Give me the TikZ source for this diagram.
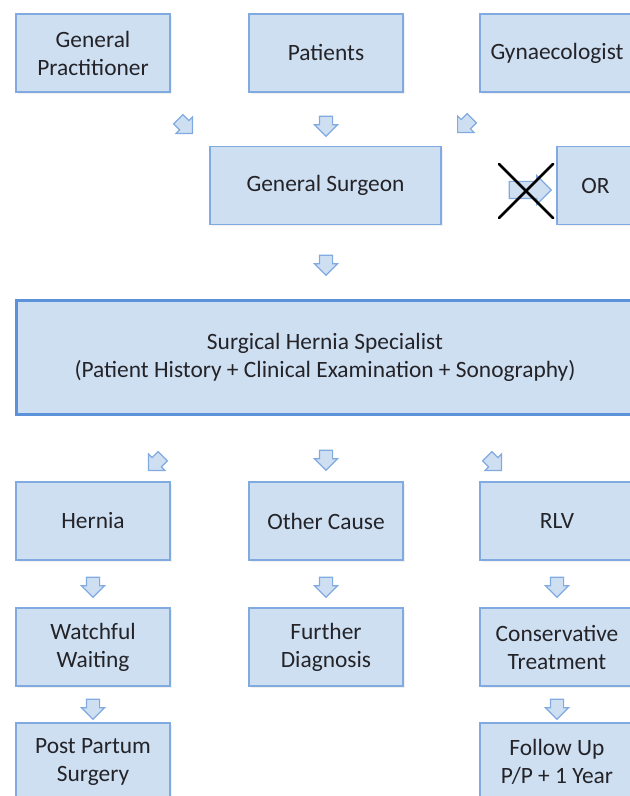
\documentclass[tikz,border=0pt]{standalone}
\usepackage{fontspec}
\setmainfont{Carlito}
\usepackage{xcolor}
\usepackage{tikz}
\usetikzlibrary{shapes.arrows, positioning, calc, shadows}
\definecolor{boxfill}{RGB}{207, 223, 242}
\definecolor{boxedge}{RGB}{128, 170, 224}
\definecolor{bigedge}{RGB}{92, 146, 218}
\definecolor{darktext}{RGB}{35, 35, 40}

\tikzset{
    box/.style={fill=boxfill, draw=boxedge, line width=0.8pt, align=center, text=darktext,
        minimum width=77pt, minimum height=39pt, inner sep=2pt,
        font=\fontsize{11.7}{14}\selectfont,
        drop shadow={opacity=0.12, shadow xshift=0.8pt, shadow yshift=-0.8pt}},
    bigbox/.style={box, draw=bigedge, line width=1.5pt, minimum width=309pt, minimum height=57pt},
    blockarrow/.style={single arrow, fill=boxfill, draw=boxedge, line width=0.6pt,
        inner sep=3pt, single arrow head extend=2.5pt, minimum height=10pt},
}

\begin{document}
\begin{tikzpicture}[x=0.5pt, y=-0.5pt]
    \useasboundingbox (0,0) rectangle (630,796);

    % who sends the patient
    \node[box] (gp) at (93,53) {General\\Practitioner};
    \node[box] (patients) at (326,53) {Patients};
    \node[box] (gyn) at (557,53) {Gynaecologist};
    \node[blockarrow, rotate=-45] (gparrow) at (183,124) {};
    \node[blockarrow, rotate=-90] (patarrow) at (326,123) {};
    \node[blockarrow, rotate=-135] (gynarrow) at (467,123) {};

    \node[box, minimum width=115.5pt] (surgeon) at (325.5,185.5) {General Surgeon};
    \node[box, minimum width=38.5pt] (or) at (595.5,185.5) {OR};
    \node[blockarrow, minimum height=21pt, inner sep=4pt, single arrow head extend=3pt] (orarrow) at (526,190) {};
    \draw[line width=1.4pt, line cap=round] (orarrow.center) ++(-27,-26) -- ++(54,54);
    \draw[line width=1.4pt, line cap=round] (orarrow.center) ++(-27,28) -- ++(54,-54);

    \node[blockarrow, rotate=-90] (surgarrow) at (326,262) {};

    \node[bigbox] (specialist) at (325,357)
        {Surgical Hernia Specialist\\(Patient History + Clinical Examination + Sonography)};

    \node[blockarrow, rotate=-135] (hernarrow) at (158,461) {};
    \node[blockarrow, rotate=-90] (otherarrow) at (326,457) {};
    \node[blockarrow, rotate=-45] (rlvarrow) at (492,461) {};

    % diagnosis
    \node[box] (hernia) at (93,521) {Hernia};
    \node[box] (other) at (326,521) {Other Cause};
    \node[box] (rlv) at (557,521) {RLV};
    \node[blockarrow, rotate=-90] (a1) at (93,584) {};
    \node[blockarrow, rotate=-90] (a2) at (326,584) {};
    \node[blockarrow, rotate=-90] (a3) at (557,584) {};

    % therapy
    \node[box] (waiting) at (93,647) {Watchful\\Waiting};
    \node[box] (further) at (326,647) {Further\\Diagnosis};
    \node[box] (conservative) at (557,647) {Conservative\\Treatment};
    \node[blockarrow, rotate=-90] (a4) at (93,706) {};
    \node[blockarrow, rotate=-90] (a5) at (557,706) {};

    \node[box] (postpartum) at (93,762) {Post Partum\\Surgery};
    \node[box] (followup) at (557,762) {Follow Up\\P/P + 1 Year};
\end{tikzpicture}
\end{document}
